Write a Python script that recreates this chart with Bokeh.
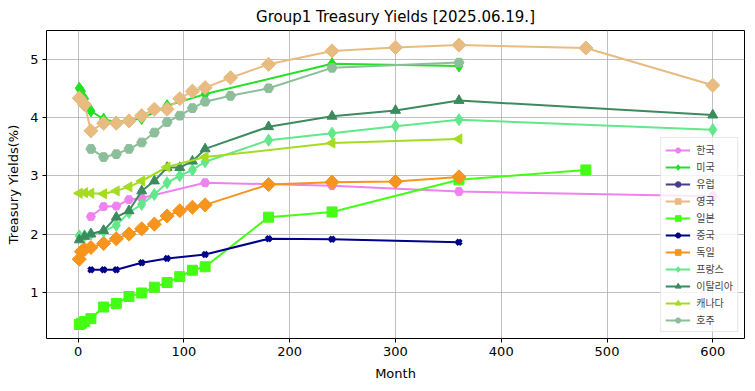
import math
from bokeh.plotting import figure
from bokeh.models import FixedTicker, ColumnDataSource
from bokeh.embed import file_html
from bokeh.resources import INLINE

# ---- data (months, yields %) ----
kr_m = [12, 24, 36, 48, 60, 120, 240, 360, 600]
kr_v = [2.30, 2.47, 2.48, 2.59, 2.62, 2.88, 2.83, 2.73, 2.65]

us_m = [1, 3, 6, 12, 24, 36, 60, 84, 120, 240, 360]
us_v = [4.50, 4.45, 4.32, 4.11, 3.97, 3.92, 3.98, 4.20, 4.40, 4.92, 4.88]

# Europe: listed in the legend but no values drawn
eu_m = [float("nan")]
eu_v = [float("nan")]

uk_m = [1, 6, 12, 24, 36, 48, 60, 72, 84, 96, 108, 120, 144, 180, 240, 300, 360, 480, 600]
uk_v = [4.33, 4.22, 3.77, 3.90, 3.90, 3.94, 4.03, 4.14, 4.14, 4.32, 4.45, 4.51, 4.68, 4.91, 5.14, 5.20, 5.24, 5.19, 4.55]

jp_m = [1, 3, 6, 12, 24, 36, 48, 60, 72, 84, 96, 108, 120, 180, 240, 360, 480]
jp_v = [0.45, 0.47, 0.50, 0.55, 0.75, 0.81, 0.93, 0.99, 1.09, 1.17, 1.27, 1.38, 1.44, 2.29, 2.38, 2.93, 3.10]

cn_m = [12, 24, 36, 60, 84, 120, 180, 240, 360]
cn_v = [1.39, 1.39, 1.39, 1.51, 1.58, 1.65, 1.92, 1.91, 1.86]

de_m = [1, 3, 6, 12, 24, 36, 48, 60, 72, 84, 96, 108, 120, 180, 240, 300, 360]
de_v = [1.57, 1.70, 1.74, 1.77, 1.84, 1.92, 2.00, 2.09, 2.17, 2.31, 2.40, 2.46, 2.50, 2.85, 2.89, 2.90, 2.98]

fr_m = [1, 6, 12, 24, 36, 48, 60, 72, 84, 96, 108, 120, 180, 240, 300, 360, 600]
fr_v = [1.97, 1.97, 2.00, 2.05, 2.15, 2.37, 2.51, 2.68, 2.88, 3.00, 3.10, 3.24, 3.61, 3.73, 3.85, 3.96, 3.79]

it_m = [1, 6, 12, 24, 36, 48, 60, 72, 84, 96, 108, 120, 180, 240, 300, 360, 600]
it_v = [1.90, 1.96, 2.00, 2.06, 2.29, 2.40, 2.74, 2.91, 3.14, 3.14, 3.25, 3.46, 3.84, 4.02, 4.12, 4.29, 4.04]

ca_m = [1, 6, 12, 24, 36, 48, 60, 84, 120, 240, 360]
ca_v = [2.70, 2.71, 2.70, 2.69, 2.74, 2.81, 2.91, 3.15, 3.32, 3.56, 3.63]

au_m = [12, 24, 36, 48, 60, 72, 84, 96, 108, 120, 144, 180, 240, 360]
au_v = [3.46, 3.32, 3.37, 3.46, 3.57, 3.74, 3.92, 4.03, 4.16, 4.27, 4.37, 4.50, 4.85, 4.94]

x_ticks = [0, 100, 200, 300, 400, 500, 600]
y_ticks = [1, 2, 3, 4, 5]

series = [
    ("한국", kr_m, kr_v, "#ee82ee", "hex", 0, 9),
    ("미국", us_m, us_v, "#22e022", "diamond", 0, 12),
    ("유럽", eu_m, eu_v, "#483d8b", "circle", 0, 9),
    ("영국", uk_m, uk_v, "#e8bb80", "square", math.pi / 4, 10),
    ("일본", jp_m, jp_v, "#44ff14", "square", 0, 10),
    ("중국", cn_m, cn_v, "#000088", "x", 0, 7),
    ("독일", de_m, de_v, "#f7941d", "square", math.pi / 4, 10),
    ("프랑스", fr_m, fr_v, "#60e88a", "diamond", 0, 12),
    ("이탈리아", it_m, it_v, "#3b8b5f", "triangle", 0, 10),
    ("캐나다", ca_m, ca_v, "#a5dc22", "triangle", math.pi / 2, 10),
    ("호주", au_m, au_v, "#8cbe9a", "hex", 0, 10),
]

p = figure(
    frame_width=698, frame_height=308,
    x_range=(-30, 630), y_range=(0.21, 5.49),
    output_backend="svg", toolbar_location=None,
    title="Group1 Treasury Yields [2025.06.19.]",
    min_border_left=46, min_border_right=1, min_border_top=22, min_border_bottom=45,
)
p.title.align = "center"
p.title.text_font = "DejaVu Sans"
p.title.text_font_size = "15px"
p.title.text_font_style = "normal"
p.title.text_color = "black"

p.outline_line_color = "black"
p.outline_line_width = 1
p.outline_line_alpha = 1

for ax in (p.xaxis[0], p.yaxis[0]):
    ax.axis_line_color = None
    ax.major_tick_line_color = "black"
    ax.major_tick_out = 4
    ax.major_tick_in = 0
    ax.minor_tick_line_color = None
    ax.major_label_text_font = "DejaVu Sans"
    ax.major_label_text_font_size = "13px"
    ax.major_label_text_color = "black"
    ax.axis_label_text_font = "DejaVu Sans"
    ax.axis_label_text_font_size = "13px"
    ax.axis_label_text_font_style = "normal"
    ax.axis_label_text_color = "black"

p.xaxis.ticker = FixedTicker(ticks=x_ticks)
p.yaxis.ticker = FixedTicker(ticks=y_ticks)
p.xaxis.axis_label = "Month"
p.yaxis.axis_label = "Treasury Yields(%)"
p.xaxis.major_label_standoff = 4
p.yaxis.major_label_standoff = 4
p.xaxis.axis_label_standoff = 7
p.yaxis.axis_label_standoff = 6

p.grid.grid_line_color = "#b0b0b0"
p.grid.grid_line_width = 0.8

for name, m, v, color, marker, ang, size in series:
    src = ColumnDataSource(dict(x=m, y=v))
    p.line("x", "y", source=src, line_color=color, line_width=2, legend_label=name)
    if marker == "x":
        p.scatter("x", "y", source=src, marker="x", size=size, line_color=color,
                  line_width=3.5, legend_label=name)
    else:
        p.scatter("x", "y", source=src, marker=marker, angle=ang, size=size,
                  fill_color=color, line_color=color, line_width=1, legend_label=name)

lg = p.legend[0]
lg.location = "bottom_right"
lg.margin = 6
lg.padding = 4
lg.spacing = 2
lg.label_text_font = "Noto Sans CJK KR"
lg.label_text_font_size = "10px"
lg.label_height = 14
lg.glyph_height = 14
lg.glyph_width = 25
lg.label_standoff = 6
lg.border_line_color = "#d0d0d0"
lg.border_line_width = 1
lg.background_fill_alpha = 0.8

open("out.html", "w").write(file_html(p, INLINE))
